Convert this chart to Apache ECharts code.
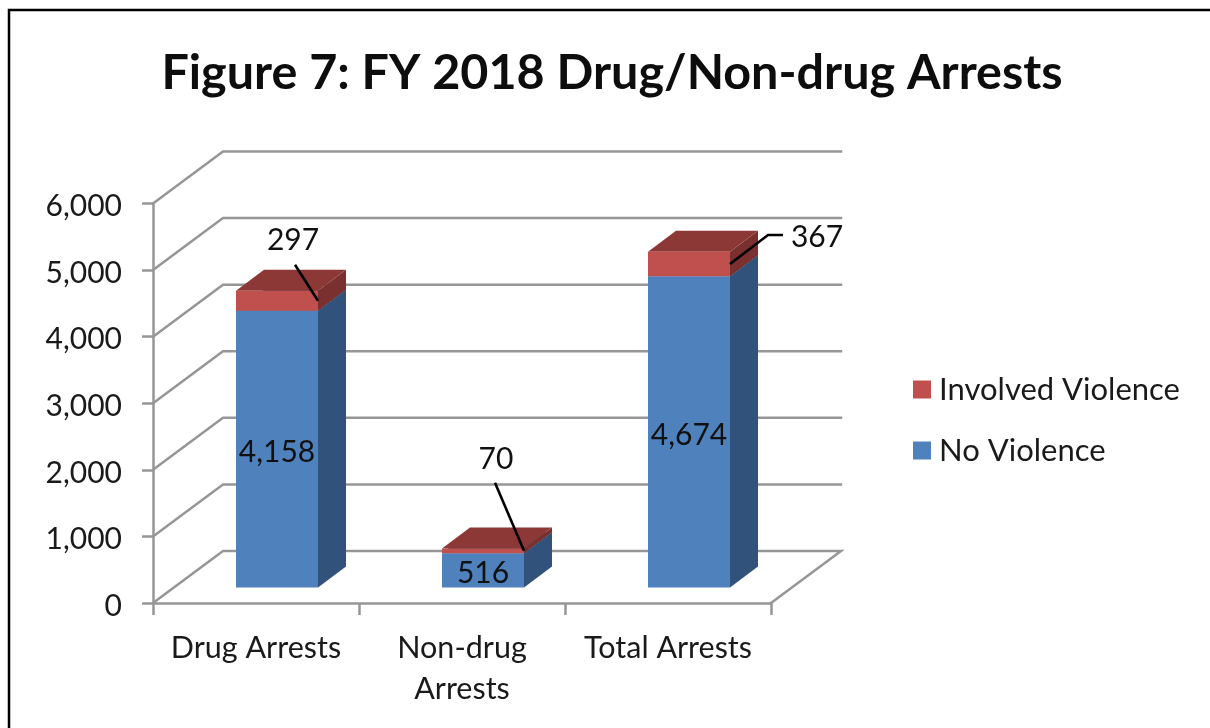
<!DOCTYPE html>
<html>
<head>
<meta charset="utf-8">
<style>html,body{margin:0;padding:0;background:#fff}#c{width:1210px;height:728px}</style>
<script src="https://cdn.jsdelivr.net/npm/echarts@6/dist/echarts.min.js"></script>
</head>
<body>
<div id="c"></div>
<script>
const titleText = 'Figure 7: FY 2018 Drug/Non-drug Arrests';
const categories = ['Drug Arrests', 'Non-drug\nArrests', 'Total Arrests'];
const noViolence = [4158, 516, 4674];
const involvedViolence = [297, 70, 367];
const yTicks = [0, 1000, 2000, 3000, 4000, 5000, 6000];

const FONT = 'Lato, "Open Sans", sans-serif';
const GRID_COLOR = '#969696';
const WALL_DX = 70, WALL_DY = -52;
const BAR_DX = 21, BAR_DY = -15.5, DEPTH_X = 28, DEPTH_Y = -21, BAR_WIDTH = 82;
// leader geometry relative to the right edge of the red segment
const leaders = [
  { pts: [[-23, -36]], label: [-25, -60] },
  { pts: [[-29, -68]], label: [-28, -91] },
  { pts: [[53, -29], [38, -29]], label: [87, -27] }
];

function box(api, params, color, sideColor, topColor, extra) {
  const idx = api.value(0);
  const lo = api.coord([idx, api.value(1)]);
  const hi = api.coord([idx, api.value(2)]);
  const l = lo[0] + BAR_DX - BAR_WIDTH / 2, r = l + BAR_WIDTH;
  const b = lo[1] + BAR_DY, t = hi[1] + BAR_DY;
  const children = [
    { type: 'polygon', shape: { points: [[r, b], [r + DEPTH_X, b + DEPTH_Y], [r + DEPTH_X, t + DEPTH_Y], [r, t]] }, style: { fill: sideColor } },
    { type: 'polygon', shape: { points: [[l, t], [r, t], [r + DEPTH_X, t + DEPTH_Y], [l + DEPTH_X, t + DEPTH_Y]] }, style: { fill: topColor } },
    { type: 'rect', shape: { x: l, y: t, width: BAR_WIDTH, height: b - t }, style: { fill: color } }
  ];
  if (extra) children.push(extra(l, r, t, b));
  return { type: 'group', children };
}

const chart = echarts.init(document.getElementById('c'), null, { renderer: 'canvas' });
chart.setOption({
  animation: false,
  backgroundColor: '#ffffff',
  title: {
    text: titleText, left: 607, top: 44, textAlign: 'center',
    textStyle: { fontFamily: FONT, fontWeight: 'bold', fontSize: 48.5, color: '#0d0d0d' }
  },
  legend: {
    orient: 'vertical', left: 908, top: 369, icon: 'rect', itemWidth: 18, itemHeight: 18, itemGap: 30,
    data: ['Involved Violence', 'No Violence'],
    textStyle: { fontFamily: FONT, fontSize: 31, color: '#1a1a1a', padding: [0, 0, 0, 3] }
  },
  grid: { left: 153, top: 203.5, width: 618, height: 399.5 },
  xAxis: {
    type: 'category', data: categories,
    axisLine: { lineStyle: { color: GRID_COLOR, width: 2.5 } },
    axisTick: { show: true, length: 12, lineStyle: { color: GRID_COLOR, width: 2.5 } },
    axisLabel: { fontFamily: FONT, fontSize: 30.5, color: '#1a1a1a', lineHeight: 41, margin: 25, interval: 0 }
  },
  yAxis: {
    type: 'value', min: 0, max: 6000, interval: 1000,
    splitLine: { show: false },
    axisLine: { show: true, lineStyle: { color: GRID_COLOR, width: 2.5 } },
    axisTick: { show: true, length: 11, lineStyle: { color: GRID_COLOR, width: 2.5 } },
    axisLabel: {
      margin: 31,
      formatter: v => '{n|' + v.toLocaleString('en-US') + '}',
      rich: { n: { fontFamily: FONT, fontSize: 30, color: '#1a1a1a', padding: [6, 0, 0, 0] } }
    }
  },
  series: [
    {
      type: 'custom', name: 'walls', z: 1, silent: true,
      data: yTicks.map(v => [0, v]),
      renderItem(params, api) {
        const y = api.coord([0, api.value(1)])[1];
        const x0 = params.coordSys.x, x1 = x0 + params.coordSys.width;
        const style = { stroke: GRID_COLOR, lineWidth: 2.5, fill: null, lineCap: 'square' };
        const pts = [[x0, y], [x0 + WALL_DX, y + WALL_DY], [x1 + WALL_DX, y + WALL_DY]];
        if (api.value(1) === 0) pts.push([x1, y]);
        return { type: 'polyline', shape: { points: pts }, style };
      }
    },
    {
      type: 'custom', name: 'No Violence', z: 2, silent: true,
      itemStyle: { color: '#4f81bd' },
      encode: { x: 0, y: [1, 2] },
      data: noViolence.map((v, i) => [i, 0, v]),
      renderItem(params, api) {
        const v = api.value(2);
        return box(api, params, '#4f81bd', '#31527b', '#31527b', (l, r, t, b) => ({
          type: 'text', z2: 5,
          style: { text: v.toLocaleString('en-US'), x: (l + r) / 2, y: (t + b) / 2 + 3, align: 'center', verticalAlign: 'middle', font: '30px ' + FONT, fill: '#111' }
        }));
      }
    },
    {
      type: 'custom', name: 'Involved Violence', z: 3, silent: true,
      itemStyle: { color: '#c0504d' },
      encode: { x: 0, y: [1, 2] },
      data: involvedViolence.map((v, i) => [i, noViolence[i], noViolence[i] + v]),
      renderItem(params, api) {
        return box(api, params, '#c0504d', '#7a302e', '#8c3836');
      }
    },
    {
      type: 'custom', name: 'leaders', z: 4, silent: true,
      encode: { x: 0, y: [1, 2] },
      data: involvedViolence.map((v, i) => [i, noViolence[i], noViolence[i] + v, v]),
      renderItem(params, api) {
        const i = api.value(0);
        const lo = api.coord([i, api.value(1)]);
        const hi = api.coord([i, api.value(2)]);
        const ax = lo[0] + BAR_DX + BAR_WIDTH / 2, ay = (lo[1] + hi[1]) / 2 + BAR_DY;
        const L = leaders[i];
        const pts = L.pts.map(p => [ax + p[0], ay + p[1]]).concat([[ax, ay]]);
        return {
          type: 'group', children: [
            { type: 'polyline', shape: { points: pts }, style: { stroke: '#000', lineWidth: 2.6, fill: null } },
            { type: 'text', style: { text: String(api.value(3)), x: ax + L.label[0], y: ay + L.label[1], align: 'center', verticalAlign: 'middle', font: '30px ' + FONT, fill: '#111' } }
          ]
        };
      }
    }
  ],
  graphic: [{
    type: 'polyline', silent: true,
    shape: { points: [[9, 728], [9, 10], [1210, 10]] },
    style: { stroke: '#000', lineWidth: 2.5, fill: null }
  }]
});
</script>
</body>
</html>
